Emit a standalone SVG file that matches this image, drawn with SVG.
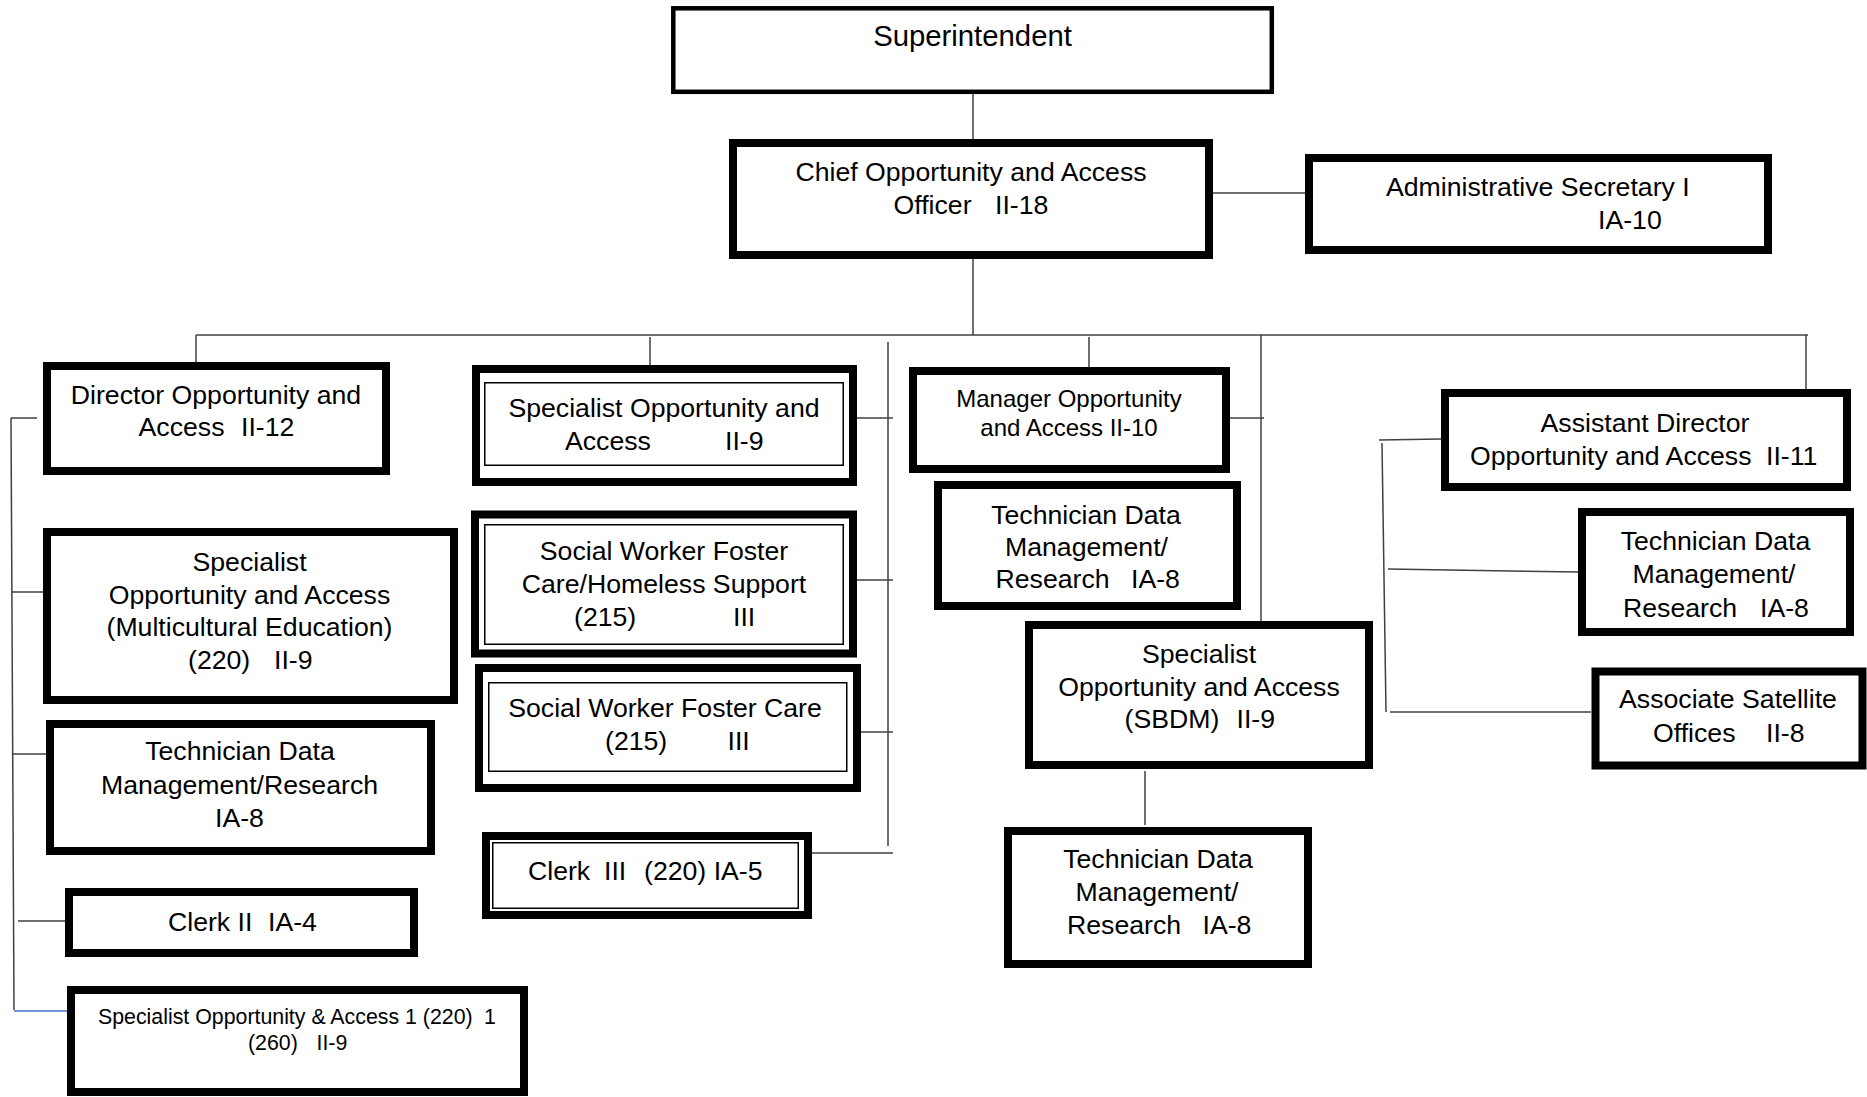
<svg xmlns="http://www.w3.org/2000/svg" width="1867" height="1097" viewBox="0 0 1867 1097">
<style>
.box{fill:#fff;stroke:#000;stroke-width:8}
.thin{fill:none;stroke:#000;stroke-width:1.5}
.ln{fill:none;stroke:#404040;stroke-width:1.5}
text{font-family:"Liberation Sans",Arial,sans-serif;font-size:26.67px;fill:#000}
.m{text-anchor:middle}
</style>
<rect width="1867" height="1097" fill="#fff"/>
<g id="connectors">
<line class="ln" x1="973" y1="94" x2="973" y2="139"/>
<line class="ln" x1="1213" y1="193" x2="1305" y2="193"/>
<line class="ln" x1="973" y1="259" x2="973" y2="335"/>
<line class="ln" x1="196" y1="335" x2="1808" y2="335"/>
<line class="ln" x1="196" y1="335" x2="196" y2="362"/>
<line class="ln" x1="650" y1="337" x2="650" y2="365"/>
<line class="ln" x1="888" y1="342" x2="888" y2="846"/>
<line class="ln" x1="857" y1="418" x2="893" y2="418"/>
<line class="ln" x1="857" y1="580" x2="893" y2="580"/>
<line class="ln" x1="861" y1="732" x2="893" y2="732"/>
<line class="ln" x1="812" y1="853" x2="893" y2="853"/>
<line class="ln" x1="1089" y1="337" x2="1089" y2="367"/>
<line class="ln" x1="1261" y1="335" x2="1261" y2="621"/>
<line class="ln" x1="1230" y1="418" x2="1264" y2="418"/>
<line class="ln" x1="1145" y1="771" x2="1145" y2="825"/>
<line class="ln" x1="1806" y1="335" x2="1806" y2="389"/>
<line class="ln" x1="1379" y1="440" x2="1441" y2="439"/>
<line class="ln" x1="1382" y1="443" x2="1386" y2="712"/>
<line class="ln" x1="1388" y1="569" x2="1579" y2="572"/>
<line class="ln" x1="1390" y1="712" x2="1591" y2="712"/>
<line class="ln" x1="11" y1="418" x2="14" y2="1010"/>
<line class="ln" x1="11" y1="418" x2="37" y2="418"/>
<line class="ln" x1="11" y1="592" x2="43" y2="592"/>
<line class="ln" x1="12" y1="754" x2="46" y2="754"/>
<line class="ln" x1="18" y1="921" x2="65" y2="921"/>
<line x1="14" y1="1011" x2="68" y2="1011" stroke="#4472C4" stroke-width="1.5"/>
</g>
<g id="superintendent">
<rect class="box" style="stroke-width:4.5" x="673.3" y="8.3" width="598.5" height="83.5"/>
<text class="m" x="972.5" y="46" style="font-size:29.3px">Superintendent</text>
</g>
<g id="chief">
<rect class="box" x="733" y="143" width="476" height="112"/>
<text class="m" x="971" y="180.5">Chief Opportunity and Access</text>
<text y="213.5"><tspan x="893.5">Officer</tspan><tspan x="995">II-18</tspan></text>
</g>
<g id="admin-secretary">
<rect class="box" x="1309" y="158" width="459" height="92"/>
<text x="1386" y="196">Administrative Secretary I</text>
<text x="1598" y="229">IA-10</text>
</g>
<g id="director">
<rect class="box" x="47" y="366" width="339" height="105"/>
<text class="m" x="216" y="404">Director Opportunity and</text>
<text y="436"><tspan x="138.6">Access</tspan><tspan x="241">II-12</tspan></text>
</g>
<g id="specialist-oa">
<rect class="box" x="476" y="369" width="377" height="113"/>
<rect class="thin" x="484.75" y="382.75" width="358.5" height="82.5"/>
<text class="m" x="664" y="416.5">Specialist Opportunity and</text>
<text y="450"><tspan x="565">Access</tspan><tspan x="725">II-9</tspan></text>
</g>
<g id="manager">
<rect class="box" x="913" y="371" width="313" height="98"/>
<text class="m" x="1069" y="407" style="font-size:24px">Manager Opportunity</text>
<text class="m" x="1069" y="436" style="font-size:24px">and Access II-10</text>
</g>
<g id="assistant-director">
<rect class="box" x="1445" y="393" width="402" height="94"/>
<text class="m" x="1645" y="431.5">Assistant Director</text>
<text y="465"><tspan x="1470">Opportunity and Access</tspan><tspan x="1766">II-11</tspan></text>
</g>
<g id="specialist-multicultural">
<rect class="box" x="47" y="532" width="407" height="168"/>
<text class="m" x="249.5" y="570.5">Specialist</text>
<text class="m" x="249.5" y="603.5">Opportunity and Access</text>
<text class="m" x="249.5" y="635.5">(Multicultural Education)</text>
<text y="669"><tspan x="188">(220)</tspan><tspan x="274">II-9</tspan></text>
</g>
<g id="social-worker-homeless">
<rect class="box" x="475" y="514.5" width="378" height="139"/>
<rect class="thin" x="484.75" y="524.75" width="358.5" height="119.5"/>
<text class="m" x="664" y="559.5">Social Worker Foster</text>
<text class="m" x="664" y="592.5">Care/Homeless Support</text>
<text y="626"><tspan x="574">(215)</tspan><tspan x="733">III</tspan></text>
</g>
<g id="social-worker-foster-care">
<rect class="box" x="479" y="668" width="378" height="120"/>
<rect class="thin" x="488.75" y="682.75" width="358" height="88.5"/>
<text class="m" x="665" y="716.5">Social Worker Foster Care</text>
<text y="750"><tspan x="605">(215)</tspan><tspan x="727.5">III</tspan></text>
</g>
<g id="technician-left">
<rect class="box" x="50" y="724" width="381" height="127"/>
<text class="m" x="240" y="760">Technician Data</text>
<text class="m" x="239.5" y="793.5">Management/Research</text>
<text class="m" x="239.5" y="826.5">IA-8</text>
</g>
<g id="clerk-iii">
<rect class="box" x="486" y="836" width="322" height="79"/>
<rect class="thin" x="492.75" y="842.75" width="305.5" height="65.5"/>
<text y="880"><tspan x="528">Clerk</tspan><tspan x="604">III</tspan><tspan x="644">(220) IA-5</tspan></text>
</g>
<g id="clerk-ii">
<rect class="box" x="69" y="892" width="345" height="61"/>
<text y="930.5"><tspan x="168">Clerk II</tspan><tspan x="268">IA-4</tspan></text>
</g>
<g id="specialist-oa-1">
<rect class="box" x="71" y="990" width="453" height="102"/>
<text y="1023.5" style="font-size:21.33px"><tspan x="98">Specialist Opportunity &amp; Access 1 (220)</tspan><tspan x="484">1</tspan></text>
<text y="1049.5" style="font-size:21.33px"><tspan x="248">(260)</tspan><tspan x="316.5">II-9</tspan></text>
</g>
<g id="technician-mid">
<rect class="box" x="938" y="485" width="299" height="121"/>
<text class="m" x="1086" y="524">Technician Data</text>
<text class="m" x="1086.5" y="556">Management/</text>
<text y="588"><tspan x="995.5">Research</tspan><tspan x="1131">IA-8</tspan></text>
</g>
<g id="specialist-sbdm">
<rect class="box" x="1029" y="625" width="340" height="140"/>
<text class="m" x="1199" y="663">Specialist</text>
<text class="m" x="1199" y="695.5">Opportunity and Access</text>
<text y="728"><tspan x="1124.6">(SBDM)</tspan><tspan x="1236.5">II-9</tspan></text>
</g>
<g id="technician-bottom">
<rect class="box" x="1008" y="831" width="300" height="133"/>
<text class="m" x="1158" y="868">Technician Data</text>
<text class="m" x="1157" y="900.5">Management/</text>
<text y="933.5"><tspan x="1067">Research</tspan><tspan x="1202.5">IA-8</tspan></text>
</g>
<g id="technician-right">
<rect class="box" x="1582" y="512" width="268" height="120"/>
<text class="m" x="1715.5" y="550">Technician Data</text>
<text class="m" x="1714" y="583">Management/</text>
<text y="616.5"><tspan x="1623">Research</tspan><tspan x="1760">IA-8</tspan></text>
</g>
<g id="associate-satellite">
<rect class="box" x="1595.5" y="671.5" width="267" height="94"/>
<text class="m" x="1728" y="708">Associate Satellite</text>
<text y="741.5"><tspan x="1653">Offices</tspan><tspan x="1766">II-8</tspan></text>
</g>
</svg>
